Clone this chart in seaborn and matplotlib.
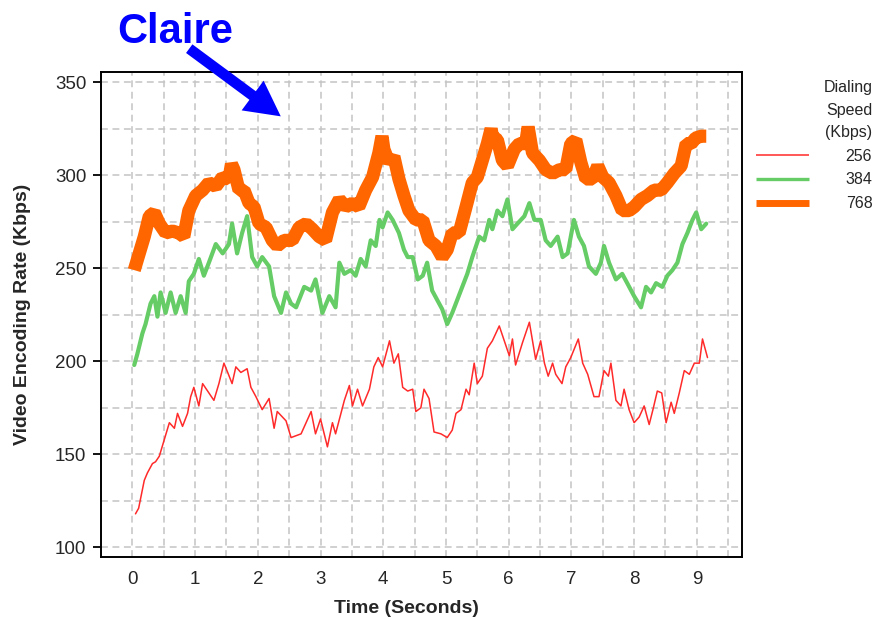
import numpy as np
import pandas as pd
import matplotlib
matplotlib.use("Agg")
import matplotlib.pyplot as plt
from matplotlib.patches import FancyArrowPatch
import seaborn as sns

# ---------------- data ----------------
red_t = [0.05, 0.10, 0.13, 0.19, 0.24, 0.32, 0.37, 0.43, 0.51, 0.59, 0.67, 0.72, 0.80, 0.88, 0.93, 0.98,
         1.06, 1.12, 1.20, 1.30, 1.38, 1.46, 1.52, 1.59, 1.65, 1.73, 1.83, 1.89, 1.97, 2.07, 2.18, 2.26,
         2.31, 2.45, 2.53, 2.69, 2.85, 2.92, 3.00, 3.11, 3.19, 3.24, 3.38, 3.46, 3.51, 3.59, 3.67, 3.78,
         3.85, 3.92, 3.99, 4.10, 4.17, 4.24, 4.31, 4.39, 4.47, 4.52, 4.60, 4.65, 4.73, 4.81, 4.92, 5.02,
         5.10, 5.16, 5.24, 5.32, 5.37, 5.45, 5.50, 5.58, 5.66, 5.74, 5.85, 5.93, 6.01, 6.06, 6.11, 6.22,
         6.33, 6.38, 6.43, 6.51, 6.57, 6.63, 6.70, 6.75, 6.85, 6.91, 6.99, 7.11, 7.18, 7.26, 7.36, 7.44,
         7.52, 7.59, 7.63, 7.71, 7.79, 7.84, 7.92, 8.00, 8.08, 8.16, 8.24, 8.30, 8.37, 8.44, 8.51, 8.59,
         8.64, 8.72, 8.80, 8.88, 8.96, 9.04, 9.09, 9.17]
red_v = [118, 121, 126, 136, 140, 145, 146, 149, 158, 167, 164, 172, 165, 172, 181, 186,
         176, 188, 184, 179, 188, 199, 194, 188, 197, 194, 196, 186, 181, 174, 180, 164,
         173, 168, 159, 161, 173, 161, 169, 154, 167, 161, 179, 187, 176, 185, 176, 185,
         197, 202, 197, 211, 199, 204, 186, 184, 185, 173, 175, 185, 180, 162, 161, 159,
         163, 172, 174, 185, 182, 199, 188, 192, 207, 211, 219, 211, 203, 212, 198, 210,
         221, 211, 201, 211, 199, 192, 199, 193, 188, 197, 202, 212, 199, 193, 181, 181,
         195, 192, 199, 179, 176, 185, 174, 167, 170, 176, 166, 174, 184, 183, 167, 178,
         172, 183, 195, 193, 199, 199, 212, 202]

green_t = [0.03, 0.08, 0.16, 0.21, 0.29, 0.35, 0.40, 0.45, 0.53, 0.61, 0.69, 0.77, 0.85, 0.90, 0.98,
           1.06, 1.14, 1.22, 1.33, 1.44, 1.54, 1.59, 1.67, 1.75, 1.83, 1.91, 1.99, 2.07, 2.18, 2.26,
           2.37, 2.45, 2.53, 2.61, 2.74, 2.85, 2.92, 3.03, 3.14, 3.24, 3.30, 3.38, 3.48, 3.56, 3.64,
           3.72, 3.80, 3.88, 3.94, 3.99, 4.07, 4.15, 4.25, 4.33, 4.39, 4.47, 4.55, 4.63, 4.70, 4.78,
           4.86, 4.94, 5.02, 5.10, 5.18, 5.26, 5.34, 5.42, 5.53, 5.61, 5.69, 5.74, 5.82, 5.90, 5.98,
           6.06, 6.14, 6.25, 6.33, 6.41, 6.51, 6.59, 6.67, 6.78, 6.86, 6.94, 7.04, 7.12, 7.20, 7.28,
           7.39, 7.47, 7.52, 7.60, 7.71, 7.81, 7.89, 8.00, 8.11, 8.19, 8.27, 8.35, 8.45, 8.53, 8.61,
           8.69, 8.77, 8.85, 8.93, 8.99, 9.07, 9.15]
green_v = [198, 204, 215, 220, 231, 235, 224, 237, 226, 237, 226, 235, 226, 243, 247,
           255, 246, 253, 263, 258, 263, 274, 258, 269, 278, 256, 251, 256, 251, 235,
           226, 237, 231, 229, 240, 238, 244, 226, 235, 229, 253, 247, 249, 246, 255,
           251, 265, 262, 276, 272, 280, 276, 269, 260, 256, 256, 244, 246, 253, 238,
           233, 228, 220, 226, 233, 240, 247, 256, 267, 265, 276, 271, 281, 278, 287,
           271, 274, 278, 285, 276, 276, 265, 262, 267, 256, 258, 276, 267, 262, 251,
           247, 253, 262, 253, 244, 247, 242, 235, 229, 240, 237, 242, 240, 246, 249,
           253, 263, 269, 276, 280, 271, 274]

orange_t = [0.03, 0.11, 0.19, 0.27, 0.35, 0.43, 0.53, 0.64, 0.74, 0.82, 0.90, 1.01, 1.12, 1.22, 1.33,
            1.44, 1.54, 1.58, 1.62, 1.70, 1.78, 1.86, 1.94, 2.02, 2.13, 2.23, 2.31, 2.42, 2.55, 2.66,
            2.77, 2.87, 2.98, 3.08, 3.19, 3.30, 3.40, 3.51, 3.61, 3.72, 3.83, 3.93, 3.98, 4.01, 4.09,
            4.17, 4.25, 4.33, 4.41, 4.52, 4.63, 4.73, 4.84, 4.94, 5.02, 5.10, 5.21, 5.32, 5.42, 5.50,
            5.58, 5.66, 5.72, 5.74, 5.82, 5.90, 5.98, 6.09, 6.17, 6.27, 6.31, 6.38, 6.49, 6.59, 6.70,
            6.81, 6.91, 6.99, 7.07, 7.15, 7.23, 7.34, 7.42, 7.50, 7.60, 7.71, 7.81, 7.92, 8.00, 8.11,
            8.21, 8.32, 8.43, 8.53, 8.64, 8.75, 8.83, 8.91, 8.98, 9.07, 9.15]
orange_v = [249, 258, 267, 278, 280, 274, 269, 270, 269, 267, 281, 289, 292, 296, 294,
            299, 298, 306, 303, 292, 292, 285, 283, 274, 272, 265, 262, 265, 265, 272,
            274, 271, 267, 265, 280, 287, 283, 285, 283, 292, 299, 312, 321, 314, 307,
            310, 298, 289, 281, 276, 276, 265, 262, 256, 260, 269, 269, 283, 296, 299,
            308, 317, 325, 321, 319, 308, 305, 314, 317, 317, 326, 312, 308, 303, 301,
            303, 303, 317, 319, 307, 298, 298, 305, 299, 296, 289, 281, 281, 283, 287,
            289, 292, 292, 296, 301, 305, 317, 317, 320, 321, 321]

series_names = ["256", "384", "768"]
x_ticks = [0, 1, 2, 3, 4, 5, 6, 7, 8, 9]
y_ticks = [100, 150, 200, 250, 300, 350]

# ---------------- style ----------------
sns.set_style("white")
plt.rcParams["font.family"] = ["Liberation Sans", "DejaVu Sans"]

fig = plt.figure(figsize=(8.78, 6.2), dpi=100)
fig.patch.set_facecolor("white")
ax = fig.add_axes([101 / 878, 1 - 557 / 620, 641 / 878, 485 / 620])

red_df = pd.DataFrame({"t": red_t, "v": red_v})
green_df = pd.DataFrame({"t": green_t, "v": green_v})
orange_df = pd.DataFrame({"t": orange_t, "v": orange_v})

sns.lineplot(data=red_df, x="t", y="v", ax=ax, color="#FF2A2A", linewidth=1.1,
             sort=False, estimator=None, label=series_names[0], zorder=3)
sns.lineplot(data=green_df, x="t", y="v", ax=ax, color="#66CC66", linewidth=3.0,
             sort=False, estimator=None, label=series_names[1], zorder=3)
sns.lineplot(data=orange_df, x="t", y="v", ax=ax, color="#FF6600", linewidth=9.5,
             sort=False, estimator=None, label=series_names[2], zorder=3,
             solid_joinstyle="bevel", solid_capstyle="butt")

ax.set_xlim(-0.5, 9.72)
ax.set_ylim(94.8, 355.5)
ax.set_xticks(x_ticks)
ax.set_yticks(y_ticks)
ax.set_xticks(np.arange(-0.5, 9.75, 0.5), minor=True)
ax.set_yticks(np.arange(100, 356, 25), minor=True)
ax.grid(True, which="both", color="#C4C4C4", linestyle=(0, (4.5, 3)), linewidth=1.1, zorder=0)
ax.set_axisbelow(True)

for s in ax.spines.values():
    s.set_color("black")
    s.set_linewidth(1.4)

ax.tick_params(axis="y", which="major", length=5.5, width=1.3, color="black",
               labelsize=13.5, pad=5, left=True)
ax.tick_params(axis="x", which="major", length=0, labelsize=13.5, pad=10)
ax.tick_params(which="minor", length=0)

ax.set_xlabel("Time (Seconds)", fontsize=14, fontweight="bold")
ax.set_ylabel("Video Encoding Rate (Kbps)", fontsize=14, fontweight="bold")
ax.xaxis.set_label_coords((406 - 101) / 641, -0.088)
ax.yaxis.set_label_coords((23 - 101) / 641, 0.5)
ax.yaxis.label.set_va("center")

leg = ax.legend(title="Dialing\nSpeed\n(Kbps)", loc="upper right",
                bbox_to_anchor=(879 / 878, 1 - 74 / 620), bbox_transform=fig.transFigure,
                frameon=False, fontsize=11.5, title_fontsize=11.5, handlelength=3.3,
                handletextpad=2.3, labelspacing=0.55, borderaxespad=0, alignment="right")
leg.get_title().set_multialignment("right")
leg.get_title().set_linespacing(1.6)
leg_lines = leg.get_lines()
leg_lines[0].set_linewidth(1.1)
leg_lines[1].set_linewidth(2.4)
leg_lines[2].set_linewidth(5.0)
for ln in leg_lines:
    ln.set_solid_capstyle("butt")

fig.text(117 / 878, 1 - 43 / 620, "Claire", fontsize=30, fontweight="bold",
         color="#0000FF", ha="left", va="baseline")
arrow = FancyArrowPatch((187 / 878, 1 - 47 / 620), (283 / 878, 1 - 118 / 620),
                        transform=fig.transFigure,
                        arrowstyle="simple,head_length=1.8,head_width=1.9,tail_width=0.55",
                        mutation_scale=14, color="#0000FF", lw=0)
fig.add_artist(arrow)

fig.savefig("out.png", dpi=100, facecolor="white")
